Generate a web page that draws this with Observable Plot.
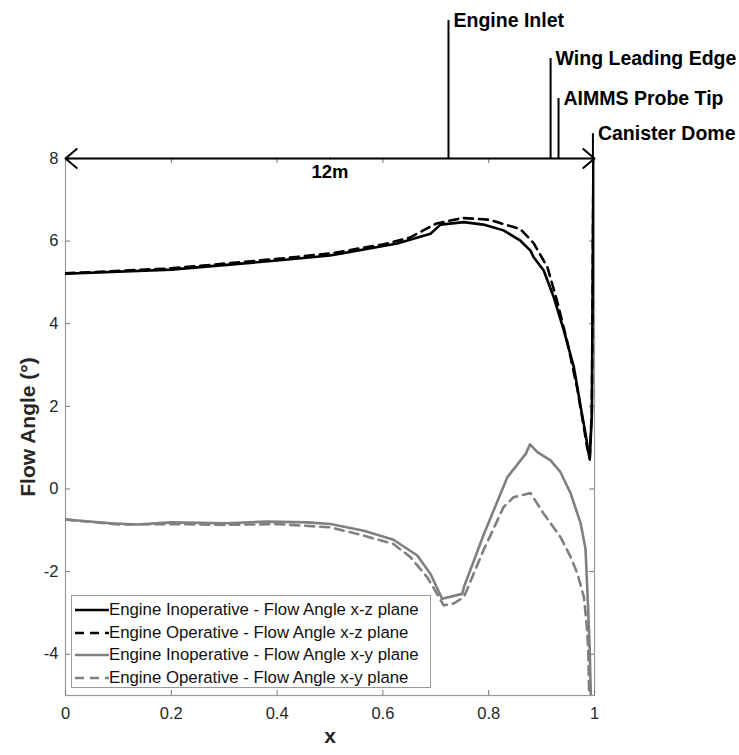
<!DOCTYPE html>
<html>
<head>
<meta charset="utf-8">
<script src="https://cdn.jsdelivr.net/npm/d3@7"></script>
<script src="https://cdn.jsdelivr.net/npm/@observablehq/plot@0.6"></script>
<style>
  body { margin: 0; background: #fff; font-family: "Liberation Sans", Arial, sans-serif; }
  #wrap { position: relative; width: 739px; height: 755px; }
  #legend { position: absolute; left: 71px; top: 595px; width: 360px; height: 93px;
    border: 1px solid #9a9a9a; background: #fff; box-sizing: border-box; padding-top: 3px; }
  .row { display: flex; align-items: center; height: 22.5px; font-size: 16.8px; color: #111; white-space: nowrap; }
  .row svg { width: 34px; height: 10px; margin-left: 3px; margin-right: 0px; }
</style>
</head>
<body>
<div id="wrap"></div>
<script>
// ---- data ----
const xTicks = [0, 0.2, 0.4, 0.6, 0.8, 1];
const yTicks = [-4, -2, 0, 2, 4, 6, 8];

const inopXZ_x = [0, 0.2, 0.4, 0.5, 0.627, 0.69, 0.709, 0.753, 0.79, 0.828, 0.86, 0.879, 0.885, 0.904, 0.923, 0.942, 0.961, 0.974, 0.983, 0.991, 0.995, 0.998];
const inopXZ_y = [5.21, 5.31, 5.53, 5.65, 5.94, 6.18, 6.40, 6.46, 6.40, 6.26, 6.01, 5.77, 5.61, 5.29, 4.64, 3.84, 2.95, 1.98, 1.34, 0.71, 1.83, 8.0];

const opXZ_x = [0, 0.2, 0.4, 0.5, 0.6, 0.65, 0.7, 0.75, 0.8, 0.85, 0.86, 0.885, 0.911, 0.929, 0.948, 0.967, 0.98, 0.986, 0.991, 0.995, 0.998];
const opXZ_y = [5.22, 5.34, 5.57, 5.70, 5.92, 6.08, 6.42, 6.56, 6.52, 6.33, 6.29, 5.95, 5.37, 4.56, 3.59, 2.46, 1.49, 1.01, 0.75, 1.9, 8.0];

const inopXY_x = [0, 0.085, 0.135, 0.2, 0.306, 0.38, 0.457, 0.501, 0.564, 0.62, 0.665, 0.69, 0.712, 0.75, 0.753, 0.791, 0.835, 0.87, 0.878, 0.892, 0.917, 0.936, 0.955, 0.974, 0.983, 0.987, 0.991, 0.993];
const inopXY_y = [-0.74, -0.83, -0.86, -0.81, -0.83, -0.79, -0.81, -0.85, -1.01, -1.23, -1.61, -2.06, -2.66, -2.54, -2.38, -1.09, 0.28, 0.85, 1.08, 0.89, 0.69, 0.40, -0.11, -0.84, -1.45, -2.6, -3.9, -5.0];

const opXY_x = [0, 0.1, 0.2, 0.3, 0.4, 0.501, 0.564, 0.62, 0.652, 0.684, 0.715, 0.734, 0.753, 0.79, 0.828, 0.847, 0.879, 0.904, 0.936, 0.955, 0.968, 0.98, 0.985, 0.988, 0.99];
const opXY_y = [-0.74, -0.86, -0.85, -0.87, -0.85, -0.93, -1.13, -1.33, -1.65, -2.14, -2.82, -2.77, -2.62, -1.49, -0.44, -0.20, -0.10, -0.60, -1.17, -1.65, -2.06, -2.62, -3.26, -3.84, -5.0];

const seriesNames = [
  "Engine Inoperative - Flow Angle x-z plane",
  "Engine Operative - Flow Angle x-z plane",
  "Engine Inoperative - Flow Angle x-y plane",
  "Engine Operative - Flow Angle x-y plane"
];

const markerNames = ["Engine Inlet", "Wing Leading Edge", "AIMMS Probe Tip", "Canister Dome"];
const markerX = [0.724, 0.917, 0.932, 0.997];
const markerTop = [11.34, 10.42, 9.45, 8.6];

// ---- build ----
const zip = (xs, ys) => xs.map((x, i) => ({x, y: ys[i]}));
const sInopXZ = zip(inopXZ_x, inopXZ_y);
const sOpXZ = zip(opXZ_x, opXZ_y);
const sInopXY = zip(inopXY_x, inopXY_y);
const sOpXY = zip(opXY_x, opXY_y);
const markers = markerNames.map((name, i) => ({name, x: markerX[i], top: markerTop[i]}));

const GRAY = "#808080";
const BLACK = "#000";
const fmt = d => String(+d.toFixed(1));

const W = 739, H = 755, mT = 158, mB = 60, mL = 65, mR = 145;
const fw = W - mL - mR, fh = H - mT - mB;

const chart = Plot.plot({
  width: W, height: H,
  marginTop: mT, marginBottom: mB, marginLeft: mL, marginRight: mR,
  style: {fontFamily: "'Liberation Sans', Arial, sans-serif", fontSize: "16px", color: "#262626", background: "#fff", overflow: "visible"},
  x: {domain: [0, 1]},
  y: {domain: [-5, 8]},
  marks: [
    Plot.frame({stroke: "#9a9a9a", strokeWidth: 1.2}),
    Plot.tickX(xTicks, {x: d => d, insetTop: fh - 5, stroke: "#777"}),
    Plot.tickX(xTicks, {x: d => d, insetBottom: fh - 5, stroke: "#777"}),
    Plot.tickY(yTicks, {y: d => d, insetRight: fw - 5, stroke: "#777"}),
    Plot.tickY(yTicks, {y: d => d, insetLeft: fw - 5, stroke: "#777"}),
    Plot.axisX({ticks: xTicks, tickSize: 0, tickPadding: 12, tickFormat: fmt, label: null, fontSize: 16.5}),
    Plot.axisY({ticks: yTicks, tickSize: 0, tickPadding: 7, tickFormat: fmt, label: null, fontSize: 16.5}),
    Plot.line(sOpXY, {x: "x", y: "y", stroke: GRAY, strokeWidth: 2.6, strokeDasharray: "9,6", clip: true}),
    Plot.line(sInopXY, {x: "x", y: "y", stroke: GRAY, strokeWidth: 2.6, clip: true}),
    Plot.line(sOpXZ, {x: "x", y: "y", stroke: BLACK, strokeWidth: 2.6, strokeDasharray: "9,6", clip: true}),
    Plot.line(sInopXZ, {x: "x", y: "y", stroke: BLACK, strokeWidth: 2.6, clip: true}),
    // dimension arrow
    Plot.arrow([{x1: 0.5, x2: 0, y: 8}, {x1: 0.5, x2: 1, y: 8}], {x1: "x1", x2: "x2", y1: "y", y2: "y", stroke: BLACK, strokeWidth: 2, headLength: 11, headAngle: 80}),
    Plot.text(["12m"], {x: 0.5, y: 8, dy: 14, fontWeight: "bold", fontSize: 18.5, fill: BLACK}),
    // station markers
    Plot.ruleX(markers, {x: "x", y1: 8, y2: "top", stroke: BLACK, strokeWidth: 2}),
    Plot.text(markers, {x: "x", y: "top", text: "name", dx: 5, textAnchor: "start", fontWeight: "bold", fontSize: 19.5, fill: BLACK}),
    // axis titles
    Plot.text(["Flow Angle (°)"], {frameAnchor: "left", textAnchor: "middle", rotate: -90, dx: -37, fontWeight: "bold", fontSize: 21, fill: "#262626"}),
    Plot.text(["x"], {frameAnchor: "bottom", textAnchor: "middle", dy: 47, fontWeight: "bold", fontSize: 21, fill: "#262626"})
  ]
});

const wrap = document.getElementById("wrap");
wrap.appendChild(chart);

// legend
const styles = [
  {stroke: BLACK, dash: null},
  {stroke: BLACK, dash: "9,6"},
  {stroke: GRAY, dash: null},
  {stroke: GRAY, dash: "9,6"}
];
const legend = document.createElement("div");
legend.id = "legend";
seriesNames.forEach((name, i) => {
  const row = document.createElement("div");
  row.className = "row";
  const s = styles[i];
  row.innerHTML = `<svg viewBox="0 0 34 10"><line x1="0" y1="5" x2="34" y2="5" stroke="${s.stroke}" stroke-width="2.6" ${s.dash ? `stroke-dasharray="${s.dash}"` : ""}/></svg><span></span>`;
  row.querySelector("span").textContent = name;
  legend.appendChild(row);
});
wrap.appendChild(legend);
</script>
</body>
</html>
